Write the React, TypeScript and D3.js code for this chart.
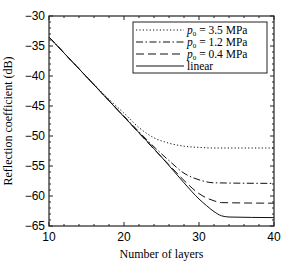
import React, { useEffect, useRef } from "react";
import * as d3 from "d3";

// layer counts and reflection coefficient (dB)
const layersLinear = [10, 20, 25, 28, 30, 31, 32, 33, 34, 40];
const linearDb = [-33.5, -46.8, -53.5, -57.8, -60.5, -61.6, -62.6, -63.3, -63.5, -63.6];

const layers04 = [10, 20, 24, 26, 28, 30, 32, 33, 40];
const p04Db = [-33.5, -46.8, -52.2, -54.8, -57.4, -59.6, -60.8, -61.1, -61.2];

const layers12 = [10, 20, 22, 24, 26, 28, 30, 32, 40];
const p12Db = [-33.5, -46.7, -49.3, -51.8, -54.1, -56.2, -57.3, -57.8, -57.9];

const layers35 = [10, 16, 18, 20, 22, 24, 26, 28, 30, 32, 40];
const p35Db = [-33.5, -41.4, -43.9, -46.2, -48.6, -50.3, -51.2, -51.7, -51.9, -52.0, -52.0];

const xTicks = [10, 20, 30, 40];
const yTicks = [-30, -35, -40, -45, -50, -55, -60, -65];

const legendLabels = ["3.5 MPa", "1.2 MPa", "0.4 MPa", "linear"];

function App() {
  const ref = useRef<SVGSVGElement>(null);
  const width = 286, height = 263;
  const margin = { top: 16, right: 12, bottom: 37, left: 49 };

  useEffect(() => {
    const svg = d3.select(ref.current);
    svg.selectAll("*").remove();
    const w = width - margin.left - margin.right;
    const h = height - margin.top - margin.bottom;

    const x = d3.scaleLinear().domain([10, 40]).range([0, w]);
    const y = d3.scaleLinear().domain([-65, -30]).range([h, 0]);

    const g = svg.append("g").attr("transform", `translate(${margin.left},${margin.top})`);

    const series = [
      { xs: layers35, ys: p35Db, dash: "1.2,2.2" },
      { xs: layers12, ys: p12Db, dash: "7,2.5,1.5,2.5" },
      { xs: layers04, ys: p04Db, dash: "8,4" },
      { xs: layersLinear, ys: linearDb, dash: null },
    ];

    const line = d3
      .line<[number, number]>()
      .x((d) => x(d[0]))
      .y((d) => y(d[1]))
      .curve(d3.curveMonotoneX);

    series.forEach((s) => {
      const pts = s.xs.map((v, i) => [v, s.ys[i]] as [number, number]);
      g.append("path")
        .datum(pts)
        .attr("fill", "none")
        .attr("stroke", "#111")
        .attr("stroke-width", 1)
        .attr("stroke-dasharray", s.dash)
        .attr("d", line);
    });

    // frame
    g.append("rect")
      .attr("width", w)
      .attr("height", h)
      .attr("fill", "none")
      .attr("stroke", "#222")
      .attr("stroke-width", 1.2);

    // minor ticks
    const xMinor = d3.range(10, 41, 2);
    const yMinor = d3.range(-65, -29, 1);
    xMinor.forEach((v) => {
      const len = xTicks.includes(v) ? 4 : 2;
      g.append("line").attr("x1", x(v)).attr("x2", x(v)).attr("y1", h).attr("y2", h - len).attr("stroke", "#222");
      g.append("line").attr("x1", x(v)).attr("x2", x(v)).attr("y1", 0).attr("y2", len).attr("stroke", "#222");
    });
    yMinor.forEach((v) => {
      const len = yTicks.includes(v) ? 4 : 2;
      g.append("line").attr("x1", 0).attr("x2", len).attr("y1", y(v)).attr("y2", y(v)).attr("stroke", "#222");
      g.append("line").attr("x1", w).attr("x2", w - len).attr("y1", y(v)).attr("y2", y(v)).attr("stroke", "#222");
    });

    g.selectAll(".xt")
      .data(xTicks)
      .enter()
      .append("text")
      .attr("x", (d) => x(d))
      .attr("y", h + 15)
      .attr("text-anchor", "middle")
      .attr("font-family", "Liberation Sans, Arial, sans-serif")
      .attr("font-size", 12)
      .text((d) => d);

    g.selectAll(".yt")
      .data(yTicks)
      .enter()
      .append("text")
      .attr("x", -4)
      .attr("y", (d) => y(d) + 4)
      .attr("text-anchor", "end")
      .attr("font-family", "Liberation Sans, Arial, sans-serif")
      .attr("font-size", 12)
      .text((d) => "\u2212" + Math.abs(d));

    g.append("text")
      .attr("x", w / 2)
      .attr("y", h + 32)
      .attr("text-anchor", "middle")
      .attr("font-family", "Liberation Serif, DejaVu Serif, serif")
      .attr("font-size", 12)
      .text("Number of layers");

    g.append("text")
      .attr("transform", `translate(${-37},${h / 2}) rotate(-90)`)
      .attr("text-anchor", "middle")
      .attr("font-family", "Liberation Serif, DejaVu Serif, serif")
      .attr("font-size", 12)
      .text("Reflection coefficient (dB)");

    // legend
    const lg = svg.append("g").attr("transform", "translate(133,22)");
    lg.append("rect")
      .attr("width", 134)
      .attr("height", 51)
      .attr("fill", "white")
      .attr("stroke", "#222")
      .attr("stroke-width", 1);
    series.forEach((s, i) => {
      const yy = 8 + i * 12;
      lg.append("line")
        .attr("x1", 3)
        .attr("x2", 51)
        .attr("y1", yy)
        .attr("y2", yy)
        .attr("stroke", "#111")
        .attr("stroke-dasharray", s.dash);
      const t = lg
        .append("text")
        .attr("x", 54)
        .attr("y", yy + 4)
        .attr("font-family", "Liberation Serif, DejaVu Serif, serif")
        .attr("font-size", 11.5);
      if (i < 3) {
        t.append("tspan").attr("font-style", "italic").text("p");
        t.append("tspan").attr("font-size", 7).attr("dy", 1.5).text("0");
        t.append("tspan").attr("dy", -1.5).text(" = " + legendLabels[i]);
      } else {
        t.text(legendLabels[i]);
      }
    });
  }, []);

  return (
    <svg
      ref={ref}
      width={width}
      height={height}
      style={{ position: "absolute", left: 0, top: 0, background: "white" }}
    />
  );
}

export default App;
